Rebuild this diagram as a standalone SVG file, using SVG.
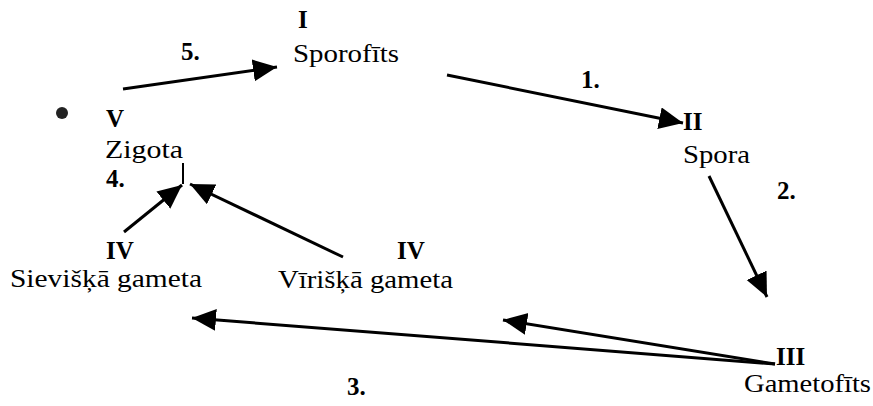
<svg xmlns="http://www.w3.org/2000/svg" width="873" height="406" viewBox="0 0 873 406">
<style>
text{font-family:'Liberation Serif','Times New Roman',Times,serif;fill:#000}
.t{font-size:26px;font-weight:normal}
.b{font-size:25px;font-weight:bold}
.c{stroke:#000;stroke-width:3;fill:none}
</style>
<defs>
<marker id="ah" markerUnits="userSpaceOnUse" markerWidth="26" markerHeight="24" refX="24" refY="11" orient="auto">
<path d="M0,0 L24,11 L0,22 z" fill="#000"/>
</marker>
</defs>
<rect width="873" height="406" fill="#fff"/>
<circle cx="62" cy="113" r="6" fill="#222"/>
<g id="connectors">
<line class="c" x1="123" y1="89" x2="277" y2="67" marker-end="url(#ah)"/>
<line class="c" x1="447" y1="75" x2="683" y2="123" marker-end="url(#ah)"/>
<line class="c" x1="709" y1="176" x2="767" y2="297" marker-end="url(#ah)"/>
<line x1="183" y1="163" x2="183" y2="184" stroke="#000" stroke-width="2"/>
<line class="c" x1="124" y1="232" x2="182" y2="185" marker-end="url(#ah)"/>
<line class="c" x1="343" y1="257" x2="190" y2="184" marker-end="url(#ah)"/>
<line class="c" x1="775" y1="364" x2="192" y2="318" marker-end="url(#ah)"/>
<line class="c" x1="775" y1="364" x2="503" y2="320" marker-end="url(#ah)"/>
</g>
<g id="n1">
<text class="b" x="298" y="28">I</text>
<text class="t" x="293" y="62" textLength="106" lengthAdjust="spacingAndGlyphs">Sporofīts</text>
</g>
<g id="n2">
<text class="b" x="683" y="130">II</text>
<text class="t" x="683" y="163" textLength="67" lengthAdjust="spacingAndGlyphs">Spora</text>
</g>
<g id="n3">
<text class="b" x="776" y="365">III</text>
<text class="t" x="744" y="392" textLength="127" lengthAdjust="spacingAndGlyphs">Gametofīts</text>
</g>
<g id="n4a">
<text class="b" x="106" y="259">IV</text>
<text class="t" x="10" y="287" textLength="192" lengthAdjust="spacingAndGlyphs">Sievišķā gameta</text>
</g>
<g id="n4b">
<text class="b" x="397" y="259">IV</text>
<text class="t" x="278" y="288" textLength="175" lengthAdjust="spacingAndGlyphs">Vīrišķā gameta</text>
</g>
<g id="n5">
<text class="b" x="106" y="127">V</text>
<text class="t" x="105" y="158" textLength="78" lengthAdjust="spacingAndGlyphs">Zigota</text>
</g>
<g id="steps">
<text class="b" x="581" y="88">1.</text>
<text class="b" x="777" y="199">2.</text>
<text class="b" x="347" y="395">3.</text>
<text class="b" x="106" y="187">4.</text>
<text class="b" x="181" y="60">5.</text>
</g>
</svg>
